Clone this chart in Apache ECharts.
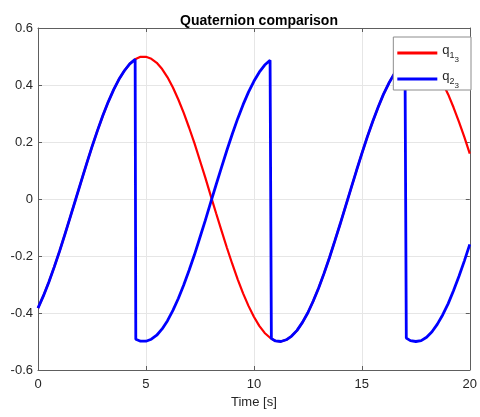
<!DOCTYPE html>
<html>
<head>
<meta charset="utf-8">
<script src="https://cdn.jsdelivr.net/npm/echarts@6/dist/echarts.min.js"></script>
<style>
  html, body { margin: 0; padding: 0; background: #fff; }
  #chart { width: 480px; height: 417px; }
</style>
</head>
<body>
<div id="chart"></div>
<script>
// Time samples [s], every 0.25 s
const timeSamples = [
  0, 0.25, 0.5, 0.75, 1, 1.25, 1.5, 1.75, 2, 2.25, 2.5, 2.75, 3, 3.25, 3.5, 3.75,
  4, 4.25, 4.5, 4.75, 5, 5.25, 5.5, 5.75, 6, 6.25, 6.5, 6.75, 7, 7.25, 7.5, 7.75,
  8, 8.25, 8.5, 8.75, 9, 9.25, 9.5, 9.75, 10, 10.25, 10.5, 10.75, 11, 11.25, 11.5, 11.75,
  12, 12.25, 12.5, 12.75, 13, 13.25, 13.5, 13.75, 14, 14.25, 14.5, 14.75, 15, 15.25, 15.5, 15.75,
  16, 16.25, 16.5, 16.75, 17, 17.25, 17.5, 17.75, 18, 18.25, 18.5, 18.75, 19, 19.25, 19.5, 19.75, 20
];

// q1_3 component
const q13 = [
  -0.383, -0.340, -0.292, -0.239, -0.183, -0.123, -0.062, 0.000, 0.062, 0.123, 0.183, 0.239, 0.292, 0.340, 0.383, 0.420,
  0.450, 0.474, 0.490, 0.499, 0.499, 0.492, 0.478, 0.456, 0.427, 0.391, 0.349, 0.302, 0.250, 0.195, 0.135, 0.075,
  0.012, -0.050, -0.111, -0.171, -0.228, -0.282, -0.331, -0.375, -0.413, -0.445, -0.470, -0.487, -0.498, -0.500, -0.494, -0.481,
  -0.461, -0.433, -0.399, -0.358, -0.312, -0.261, -0.206, -0.147, -0.087, -0.025, 0.037, 0.099, 0.159, 0.217, 0.271, 0.321,
  0.367, 0.406, 0.439, 0.466, 0.485, 0.497, 0.500, 0.497, 0.485, 0.466, 0.439, 0.406, 0.367, 0.321, 0.271, 0.217, 0.159
];

// q2_3 component: [time, value] pairs, with the sign flips at 4.53 s, 10.81 s and 17.06 s
const q23 = [
  [0, -0.383], [0.25, -0.340], [0.5, -0.292], [0.75, -0.239], [1, -0.183], [1.25, -0.123], [1.5, -0.062], [1.75, 0.000],
  [2, 0.062], [2.25, 0.123], [2.5, 0.183], [2.75, 0.239], [3, 0.292], [3.25, 0.340], [3.5, 0.383], [3.75, 0.420],
  [4, 0.450], [4.25, 0.474], [4.5, 0.490], [4.53, 0.492],
  [4.53, -0.492], [4.75, -0.499], [5, -0.499], [5.25, -0.492], [5.5, -0.478], [5.75, -0.456], [6, -0.427], [6.25, -0.391],
  [6.5, -0.349], [6.75, -0.302], [7, -0.250], [7.25, -0.195], [7.5, -0.135], [7.75, -0.075], [8, -0.012], [8.25, 0.050],
  [8.5, 0.111], [8.75, 0.171], [9, 0.228], [9.25, 0.282], [9.5, 0.331], [9.75, 0.375], [10, 0.413], [10.25, 0.445],
  [10.5, 0.470], [10.75, 0.487], [10.81, 0.490],
  [10.81, -0.490], [11, -0.498], [11.25, -0.500], [11.5, -0.494], [11.75, -0.481], [12, -0.461], [12.25, -0.433],
  [12.5, -0.399], [12.75, -0.358], [13, -0.312], [13.25, -0.261], [13.5, -0.206], [13.75, -0.147], [14, -0.087],
  [14.25, -0.025], [14.5, 0.037], [14.75, 0.099], [15, 0.159], [15.25, 0.217], [15.5, 0.271], [15.75, 0.321],
  [16, 0.367], [16.25, 0.406], [16.5, 0.439], [16.75, 0.466], [17, 0.485], [17.06, 0.488],
  [17.06, -0.488], [17.25, -0.497], [17.5, -0.500], [17.75, -0.497], [18, -0.485], [18.25, -0.466], [18.5, -0.439],
  [18.75, -0.406], [19, -0.367], [19.25, -0.321], [19.5, -0.271], [19.75, -0.217], [20, -0.159]
];

const xTicks = [0, 5, 10, 15, 20];
const yTicks = [-0.6, -0.4, -0.2, 0, 0.2, 0.4, 0.6];

const FONT = 'Liberation Sans, Arial, Helvetica, sans-serif';
const AXIS_COLOR = '#5e5e5e';
const TEXT_COLOR = '#262626';

const chart = echarts.init(document.getElementById('chart'), null, { renderer: 'canvas' });

const fmtY = v => (Math.abs(v) < 1e-9 ? '0' : v.toFixed(1));

const boxLine = { show: true, onZero: false, lineStyle: { color: AXIS_COLOR, width: 1 } };
const innerTick = { show: true, inside: true, length: 4, lineStyle: { color: AXIS_COLOR } };

chart.setOption({
  animation: false,
  backgroundColor: '#ffffff',
  title: {
    text: 'Quaternion comparison',
    left: 254,
    textAlign: 'center',
    top: 9,
    textStyle: { fontFamily: FONT, fontSize: 14, fontWeight: 'bold', color: '#000' }
  },
  grid: { left: 38, right: 8, top: 28, bottom: 47, containLabel: false },
  legend: {
    right: 9,
    top: 37,
    orient: 'vertical',
    itemWidth: 40,
    itemHeight: 3,
    itemGap: 2,
    itemStyle: { borderWidth: 0 },
    padding: [3, 12, 0, 4],
    backgroundColor: '#fff',
    borderColor: '#8c8c8c',
    borderWidth: 1,
    icon: 'rect',
    data: ['q1_3', 'q2_3'],
    formatter: name => {
      const p = name.slice(1).split('_');
      return '{q|q}{s|' + p[0] + '}{ss|' + p[1] + '}';
    },
    textStyle: {
      fontFamily: FONT,
      color: TEXT_COLOR,
      rich: {
        q: { fontSize: 13, fontFamily: FONT, color: TEXT_COLOR, verticalAlign: 'top', lineHeight: 26, padding: [4, 0, 0, 0] },
        s: { fontSize: 9, fontFamily: FONT, color: TEXT_COLOR, verticalAlign: 'top', lineHeight: 26, padding: [11, 0, 0, 0] },
        ss: { fontSize: 8, fontFamily: FONT, color: TEXT_COLOR, verticalAlign: 'top', lineHeight: 26, padding: [16, 0, 0, 0] }
      }
    }
  },
  xAxis: [
    {
      type: 'value', min: 0, max: 20, interval: 5,
      name: 'Time [s]', nameLocation: 'middle', nameGap: 26,
      nameTextStyle: { fontFamily: FONT, fontSize: 13, color: TEXT_COLOR },
      axisLine: boxLine, axisTick: innerTick,
      axisLabel: { fontFamily: FONT, fontSize: 13, color: TEXT_COLOR, margin: 8,
        formatter: v => (xTicks.includes(v) ? String(v) : '') },
      splitLine: { show: true, lineStyle: { color: '#e6e6e6', width: 1 } }
    },
    {
      type: 'value', min: 0, max: 20, interval: 5, position: 'top',
      axisLine: boxLine, axisTick: innerTick, axisLabel: { show: false }, splitLine: { show: false }
    }
  ],
  yAxis: [
    {
      type: 'value', min: -0.6, max: 0.6, interval: 0.2,
      axisLine: boxLine, axisTick: innerTick,
      axisLabel: { fontFamily: FONT, fontSize: 13, color: TEXT_COLOR, margin: 5,
        formatter: v => (yTicks.some(t => Math.abs(t - v) < 1e-9) ? fmtY(v) : '') },
      splitLine: { show: true, lineStyle: { color: '#e6e6e6', width: 1 } }
    },
    {
      type: 'value', min: -0.6, max: 0.6, interval: 0.2, position: 'right',
      axisLine: boxLine, axisTick: innerTick, axisLabel: { show: false }, splitLine: { show: false }
    }
  ],
  series: [
    {
      name: 'q1_3',
      type: 'line',
      data: timeSamples.map((t, i) => [t, q13[i]]),
      showSymbol: false,
      lineStyle: { color: '#ff0000', width: 2.2 },
      itemStyle: { color: '#ff0000' },
      z: 2
    },
    {
      name: 'q2_3',
      type: 'line',
      data: q23,
      showSymbol: false,
      lineStyle: { color: '#0000ff', width: 2.8 },
      itemStyle: { color: '#0000ff' },
      z: 3
    }
  ]
});
</script>
</body>
</html>
